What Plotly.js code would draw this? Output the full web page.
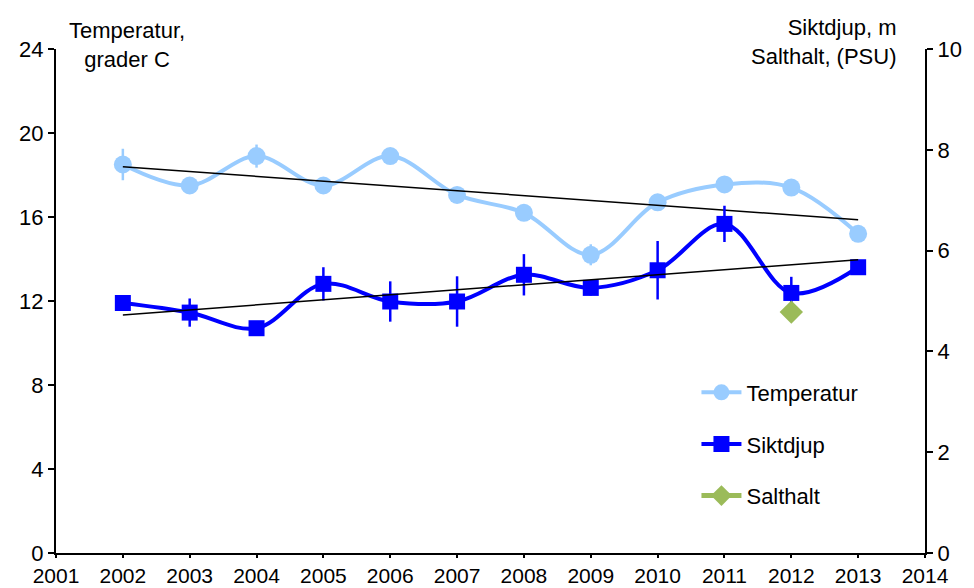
<!DOCTYPE html>
<html>
<head>
<meta charset="utf-8">
<script src="https://cdn.plot.ly/plotly-3.0.1.min.js"></script>
<style>html,body{margin:0;padding:0;background:#fff;}#chart{width:974px;height:588px;}</style>
</head>
<body>
<div id="chart"></div>
<script>
const years = [2002, 2003, 2004, 2005, 2006, 2007, 2008, 2009, 2010, 2011, 2012, 2013];
const temperatur = [18.5, 17.5, 18.9, 17.5, 18.9, 17.05, 16.2, 14.2, 16.7, 17.55, 17.4, 15.2];
const temperaturErr = [0.75, 0.35, 0.55, 0.35, 0.35, 0.35, 0.35, 0.5, 0.35, 0.35, 0.35, 0.35];
const siktdjup = [4.96, 4.77, 4.46, 5.34, 4.99, 4.99, 5.52, 5.26, 5.61, 6.53, 5.16, 5.67];
const siktdjupErr = [0, 0.28, 0, 0.33, 0.4, 0.5, 0.41, 0.15, 0.58, 0.36, 0.32, 0];
const salthaltYears = [2012];
const salthalt = [4.78];
const xTicks = [2001, 2002, 2003, 2004, 2005, 2006, 2007, 2008, 2009, 2010, 2011, 2012, 2013, 2014];

function linfit(xs, ys) {
  const n = xs.length;
  const mx = xs.reduce((a, b) => a + b, 0) / n;
  const my = ys.reduce((a, b) => a + b, 0) / n;
  let sxy = 0, sxx = 0;
  for (let i = 0; i < n; i++) { sxy += (xs[i] - mx) * (ys[i] - my); sxx += (xs[i] - mx) ** 2; }
  const b = sxy / sxx;
  const a = my - b * mx;
  const x0 = xs[0], x1 = xs[n - 1];
  return { x: [x0, x1], y: [a + b * x0, a + b * x1] };
}
const tTrend = linfit(years, temperatur);
const sTrend = linfit(years, siktdjup);

const FONT = 'Liberation Sans, Arial, sans-serif';
const FS = 22;
const cTemp = '#99CCFF', cSikt = '#0000FF', cSalt = '#9BBB59';

const traces = [
  {
    x: years, y: temperatur, name: 'Temperatur', legendgroup: 'a', type: 'scatter', mode: 'lines+markers',
    line: { color: cTemp, width: 4, shape: 'spline', smoothing: 1 },
    marker: { symbol: 'circle', size: 18, color: cTemp },
    error_y: { type: 'data', array: temperaturErr, visible: true, color: cTemp, thickness: 2.5, width: 0 },
    yaxis: 'y'
  },
  {
    x: years, y: siktdjup, name: 'Siktdjup', legendgroup: 'b', type: 'scatter', mode: 'lines+markers',
    line: { color: cSikt, width: 4, shape: 'spline', smoothing: 1 },
    marker: { symbol: 'square', size: 16, color: cSikt },
    error_y: { type: 'data', array: siktdjupErr, visible: true, color: cSikt, thickness: 2.5, width: 0 },
    yaxis: 'y2'
  },
  {
    x: salthaltYears, y: salthalt, name: 'Salthalt', legendgroup: 'c', type: 'scatter', mode: 'lines+markers',
    line: { color: cSalt, width: 5 },
    marker: { symbol: 'diamond', size: 18, color: cSalt },
    yaxis: 'y2'
  },
  {
    x: tTrend.x, y: tTrend.y, mode: 'lines', type: 'scatter', showlegend: false, hoverinfo: 'skip',
    line: { color: '#000000', width: 1.5 }, yaxis: 'y'
  },
  {
    x: sTrend.x, y: sTrend.y, mode: 'lines', type: 'scatter', showlegend: false, hoverinfo: 'skip',
    line: { color: '#000000', width: 1.5 }, yaxis: 'y2'
  }
];

const layout = {
  width: 974, height: 588,
  margin: { l: 56, r: 49, t: 49, b: 35, pad: 0 },
  paper_bgcolor: '#ffffff', plot_bgcolor: '#ffffff',
  font: { family: FONT, size: FS, color: '#000000' },
  showlegend: true,
  legend: {
    x: 0.737, xanchor: 'left', y: 0.36, yanchor: 'top',
    bgcolor: 'rgba(0,0,0,0)', borderwidth: 0,
    font: { family: FONT, size: FS, color: '#000000' },
    tracegroupgap: 20, traceorder: 'grouped', itemwidth: 40
  },
  xaxis: {
    range: [2001, 2014], tickmode: 'array', tickvals: xTicks, ticktext: xTicks.map(String),
    showgrid: false, zeroline: false, showline: true, linecolor: '#000', linewidth: 2,
    ticks: 'outside', ticklen: 3, tickwidth: 2, tickcolor: '#000',
    tickfont: { family: FONT, size: 21 }, fixedrange: true
  },
  yaxis: {
    range: [0, 24], tickmode: 'linear', tick0: 0, dtick: 4,
    showgrid: false, zeroline: false, showline: true, linecolor: '#000', linewidth: 2,
    ticks: 'outside', ticklen: 6, tickwidth: 2, tickcolor: '#000',
    tickfont: { family: FONT, size: FS }, fixedrange: true
  },
  yaxis2: {
    range: [0, 10], tickmode: 'linear', tick0: 0, dtick: 2, overlaying: 'y', side: 'right',
    showgrid: false, zeroline: false, showline: true, linecolor: '#000', linewidth: 2,
    ticks: 'outside', ticklen: 6, tickwidth: 2, tickcolor: '#000',
    tickfont: { family: FONT, size: FS }, fixedrange: true
  },
  annotations: [
    {
      text: 'Temperatur,<br>grader C', xref: 'paper', yref: 'paper', x: 0.082, y: 1.0,
      xanchor: 'center', yanchor: 'top', yshift: 33, align: 'center', showarrow: false,
      font: { family: FONT, size: FS, color: '#000' }
    },
    {
      text: 'Siktdjup, m<br>Salthalt, (PSU)', xref: 'paper', yref: 'paper', x: 0.97, y: 1.0,
      xanchor: 'right', yanchor: 'top', yshift: 36, align: 'right', showarrow: false,
      font: { family: FONT, size: FS, color: '#000' }
    }
  ]
};

Plotly.newPlot('chart', traces, layout, { displayModeBar: false, staticPlot: true });
</script>
</body>
</html>
